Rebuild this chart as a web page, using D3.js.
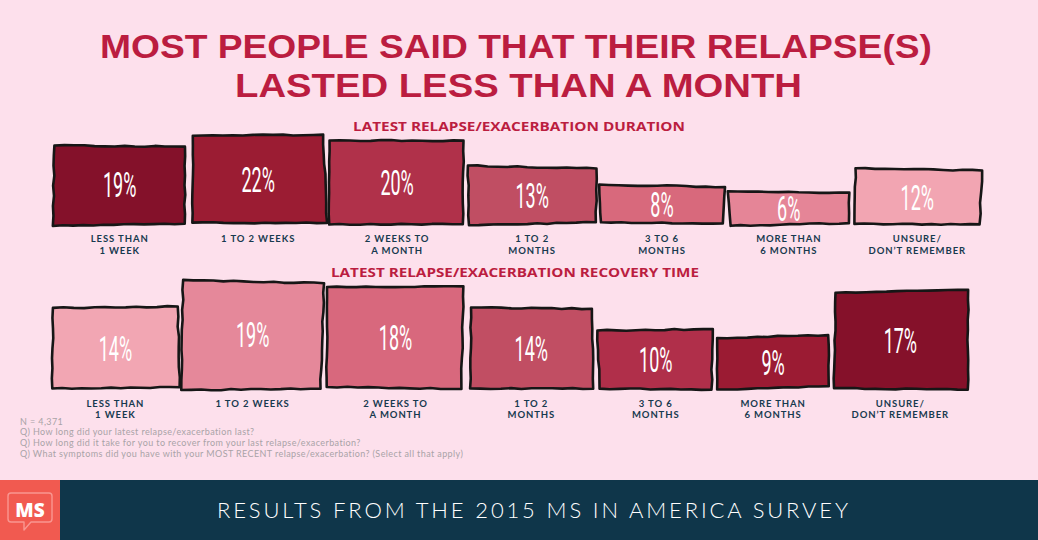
<!DOCTYPE html>
<html>
<head>
<meta charset="utf-8">
<script src="https://cdn.jsdelivr.net/npm/d3@7"></script>
<style>
html,body{margin:0;padding:0;background:#fde0ec;}
svg{display:block;}
</style>
</head>
<body>
<svg id="chart" width="1038" height="540"></svg>
<script>
// ---------- DATA ----------
const titleLines = ["MOST PEOPLE SAID THAT THEIR RELAPSE(S)", "LASTED LESS THAN A MONTH"];
const durationTitle = "LATEST RELAPSE/EXACERBATION DURATION";
const recoveryTitle = "LATEST RELAPSE/EXACERBATION RECOVERY TIME";
const durationCategories = [["LESS THAN","1 WEEK"],["1 TO 2 WEEKS"],["2 WEEKS TO","A MONTH"],["1 TO 2","MONTHS"],["3 TO 6","MONTHS"],["MORE THAN","6 MONTHS"],["UNSURE/","DON\u2019T REMEMBER"]];
const recoveryCategories = [["LESS THAN","1 WEEK"],["1 TO 2 WEEKS"],["2 WEEKS TO","A MONTH"],["1 TO 2","MONTHS"],["3 TO 6","MONTHS"],["MORE THAN","6 MONTHS"],["UNSURE/","DON\u2019T REMEMBER"]];
const durationValues = [19, 22, 20, 13, 8, 6, 12];
const recoveryValues = [14, 19, 18, 14, 10, 9, 17];
const notes = ["N = 4,371",
  "Q) How long did your latest relapse/exacerbation last?",
  "Q) How long did it take for you to recover from your last relapse/exacerbation?",
  "Q) What symptoms did you have with your MOST RECENT relapse/exacerbation? (Select all that apply)"];
const footerText = "RESULTS FROM THE 2015 MS IN AMERICA SURVEY";
const logoText = "MS";

// ---------- STYLE ----------
const durationColors = ["#84112a","#9b1c33","#b0314a","#c04e63","#d8697c","#e58597","#f2a5b2"];
const recoveryColors = ["#f2a6b3","#e5889a","#d8687d","#c14e63","#b02f4a","#9b1b33","#85112a"];
const crimson = "#bb1d40";
const navy = "#173a4f";

const svg = d3.select("#chart");
svg.append("rect").attr("width",1038).attr("height",540).attr("fill","#fde0ec");

// title
const title = svg.append("g");
title.append("text").attr("x",516).attr("y",58).text(titleLines[0])
  .attr("textLength",832).attr("lengthAdjust","spacingAndGlyphs");
title.append("text").attr("x",518.5).attr("y",97).text(titleLines[1])
  .attr("textLength",567).attr("lengthAdjust","spacingAndGlyphs");
title.selectAll("text").attr("text-anchor","middle")
  .attr("font-family","'Liberation Sans', Arial, sans-serif").attr("font-weight",700)
  .attr("font-size",34).attr("fill",crimson);

// deterministic hand-drawn wobble (style only)
function hash(n){ const s=Math.sin(n*12.9898+78.233)*43758.5453; return (s-Math.floor(s))*2-1; }
function roughPath(x,y,w,h,seed){
  const c = [
    [x+hash(seed+1)*2.2, y+hash(seed+2)*2.5],
    [x+w+hash(seed+3)*2.2, y+hash(seed+4)*2.5],
    [x+w+hash(seed+5)*2.2, y+h+hash(seed+6)*2],
    [x+hash(seed+7)*2.2, y+h+hash(seed+8)*2]
  ];
  const pts=[];
  for(let e=0;e<4;e++){
    const a=c[e], b=c[(e+1)%4];
    const len=Math.hypot(b[0]-a[0],b[1]-a[1]);
    const n=Math.max(2,Math.round(len/10));
    const nx=-(b[1]-a[1])/len, ny=(b[0]-a[0])/len;
    for(let k=0;k<n;k++){
      const t=k/n;
      const j = k===0?0:hash(seed*31+e*97+k)*0.6;
      pts.push([a[0]+(b[0]-a[0])*t+nx*j, a[1]+(b[1]-a[1])*t+ny*j]);
    }
  }
  return d3.line()(pts)+"Z";
}

const rows = [
  {title:durationTitle, titleY:130.5, titleW:332, titleX:519, cats:durationCategories, values:durationValues, colors:durationColors,
   x0:54, x1:980, base:224,
   h:d3.scaleLinear().domain([0,22]).range([10,90]),
   w:d3.scaleLinear().domain([0,22]).range([115,134]),
   labelY:242, seed:10},
  {title:recoveryTitle, titleY:276.5, titleW:368, titleX:515, cats:recoveryCategories, values:recoveryValues, colors:recoveryColors,
   x0:53, x1:967, base:388,
   h:d3.scaleLinear().domain([0,19]).range([2,107]),
   w:d3.scaleLinear().domain([0,19]).range([85,139]),
   labelY:406.5, seed:50}
];

rows.forEach(r=>{
  svg.append("text").attr("x",r.titleX).attr("y",r.titleY).text(r.title)
    .attr("text-anchor","middle").attr("font-family","'Open Sans', sans-serif")
    .attr("font-weight",700).attr("font-size",12.5).attr("fill",crimson)
    .attr("textLength",r.titleW).attr("lengthAdjust","spacingAndGlyphs");

  const color = d3.scaleOrdinal().domain(d3.range(r.values.length)).range(r.colors);
  const widths = r.values.map(v=>r.w(v));
  const gap = (r.x1-r.x0-d3.sum(widths))/(r.values.length-1);
  let cx = r.x0;
  const bars = r.values.map((v,i)=>{ const b={v,i,x:cx,w:widths[i],h:r.h(v)}; cx+=widths[i]+gap; return b; });

  const g = svg.append("g");
  const bg = g.selectAll("g.bar").data(bars).join("g").attr("class","bar");
  bg.append("path")
    .attr("d",d=>roughPath(d.x, r.base-d.h, d.w, d.h, r.seed+d.i*9))
    .attr("fill",d=>color(d.i)).attr("stroke","#161616").attr("stroke-width",2.6)
    .attr("stroke-linejoin","round");
  bg.append("g")
    .attr("transform",d=>`translate(${d.x+d.w/2},${r.base-d.h/2+12.5}) scale(0.5,1)`)
    .append("text").attr("text-anchor","middle")
    .attr("font-family","Roboto, sans-serif").attr("font-weight",400)
    .attr("font-size",36).attr("fill","#ffffff")
    .text(d=>d.v+"%");
  // category labels, one text per line
  bg.each(function(d){
    const lines = r.cats[d.i];
    d3.select(this).selectAll("text.cat").data(lines).join("text").attr("class","cat")
      .attr("x",d.x+d.w/2).attr("y",(t,k)=>r.labelY+k*11.6)
      .attr("text-anchor","middle").attr("font-family","Lato, sans-serif")
      .attr("font-weight",700).attr("font-size",9.5).attr("letter-spacing",0.9)
      .attr("fill",navy).text(t=>t);
  });
});

// notes
svg.append("g").selectAll("text").data(notes).join("text")
  .attr("x",20).attr("y",(d,i)=>424.5+i*10.9).text(d=>d)
  .attr("font-family","Lato, sans-serif").attr("font-weight",400)
  .attr("font-size",9).attr("letter-spacing",0.4).attr("fill","#a9a3a7");

// footer
svg.append("rect").attr("x",0).attr("y",480).attr("width",1038).attr("height",60).attr("fill","#0f364a");
svg.append("rect").attr("x",0).attr("y",480).attr("width",60).attr("height",60).attr("fill","#f15a50");
svg.append("path")
  .attr("d","M11,493 H49 Q52,493 52,496 V519 Q52,522 49,522 H31 L24,530 L24,522 H11 Q8,522 8,519 V496 Q8,493 11,493 Z")
  .attr("fill","none").attr("stroke","#f99690").attr("stroke-width",1.4).attr("stroke-linejoin","round");
svg.append("text").attr("x",30).attr("y",517).text(logoText)
  .attr("text-anchor","middle").attr("font-family","'Open Sans', sans-serif")
  .attr("font-weight",800).attr("font-size",19).attr("fill","#ffffff");
svg.append("text").attr("x",532.5).attr("y",518).text(footerText)
  .attr("text-anchor","middle").attr("font-family","Lato, sans-serif").attr("font-weight",300)
  .attr("font-size",22).attr("fill","#ffffff")
  .attr("textLength",631).attr("lengthAdjust","spacing");
</script>
</body>
</html>
